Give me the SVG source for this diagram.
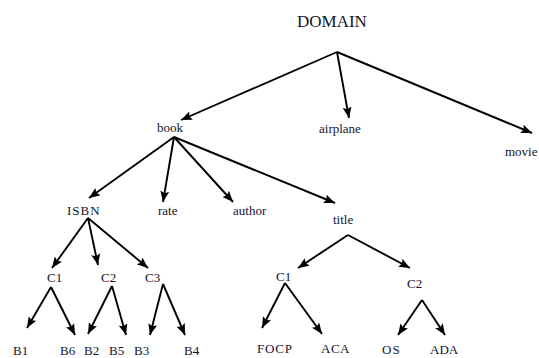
<svg xmlns="http://www.w3.org/2000/svg" width="539" height="358" viewBox="0 0 539 358">
<defs>
<style>
text{font-family:'Liberation Serif','Times New Roman',serif;font-size:13px;fill:#14142a}
.big{font-size:17px}
line{stroke:#000;stroke-width:1.9;marker-end:url(#ah)}
</style>
<marker id="ah" markerUnits="userSpaceOnUse" viewBox="0 0 11 9" refX="11" refY="4.5" markerWidth="11" markerHeight="9" orient="auto">
<path d="M0,0 L11,4.5 L0,9 L2,4.5 Z" fill="#000"/>
</marker>
</defs>
<rect width="539" height="358" fill="#fff"/>
<g id="connectors">
<line x1="337" y1="52" x2="181" y2="120"/>
<line x1="337" y1="52" x2="349" y2="118"/>
<line x1="337" y1="52" x2="532" y2="133"/>
<line x1="174" y1="137" x2="89" y2="198"/>
<line x1="174" y1="137" x2="163" y2="202"/>
<line x1="174" y1="137" x2="233" y2="202"/>
<line x1="174" y1="137" x2="335" y2="203"/>
<line x1="88" y1="218" x2="52" y2="268"/>
<line x1="88" y1="218" x2="98" y2="265"/>
<line x1="88" y1="218" x2="148" y2="268"/>
<line x1="51" y1="287" x2="27" y2="328"/>
<line x1="51" y1="287" x2="75" y2="335"/>
<line x1="112" y1="286" x2="88" y2="334"/>
<line x1="112" y1="286" x2="126" y2="335"/>
<line x1="163" y1="284" x2="150" y2="335"/>
<line x1="163" y1="284" x2="185" y2="335"/>
<line x1="348" y1="235" x2="298" y2="268"/>
<line x1="348" y1="235" x2="410" y2="268"/>
<line x1="285" y1="283" x2="262" y2="328"/>
<line x1="285" y1="283" x2="322" y2="334"/>
<line x1="422" y1="300" x2="398" y2="335"/>
<line x1="422" y1="300" x2="445" y2="335"/>
</g>
<g font-family="Liberation Serif, serif">
<g id="n-domain"><text class="big" x="297" y="27">DOMAIN</text></g>
<g id="n-book"><text x="157" y="132">book</text></g>
<g id="n-airplane"><text x="319" y="133">airplane</text></g>
<g id="n-movie"><text x="505" y="156">movie</text></g>
<g id="n-isbn"><text x="67" y="215" letter-spacing="1">ISBN</text></g>
<g id="n-rate"><text x="158" y="215">rate</text></g>
<g id="n-author"><text x="233" y="215">author</text></g>
<g id="n-title"><text x="333" y="224">title</text></g>
<g id="n-c1a"><text x="47" y="282">C1</text></g>
<g id="n-c2a"><text x="101" y="282">C2</text></g>
<g id="n-c3a"><text x="145" y="282">C3</text></g>
<g id="n-c1b"><text x="276" y="281">C1</text></g>
<g id="n-c2b"><text x="407" y="288">C2</text></g>
<g id="n-b1"><text x="13" y="355">B1</text></g>
<g id="n-b6"><text x="60" y="355">B6</text></g>
<g id="n-b2"><text x="84" y="355">B2</text></g>
<g id="n-b5"><text x="109" y="355">B5</text></g>
<g id="n-b3"><text x="134" y="355">B3</text></g>
<g id="n-b4"><text x="184" y="355">B4</text></g>
<g id="n-focp"><text x="257" y="353" letter-spacing="0.8">FOCP</text></g>
<g id="n-aca"><text x="321" y="353" letter-spacing="0.5">ACA</text></g>
<g id="n-os"><text x="382" y="354" letter-spacing="1">OS</text></g>
<g id="n-ada"><text x="430" y="354">ADA</text></g>
</g>
</svg>
